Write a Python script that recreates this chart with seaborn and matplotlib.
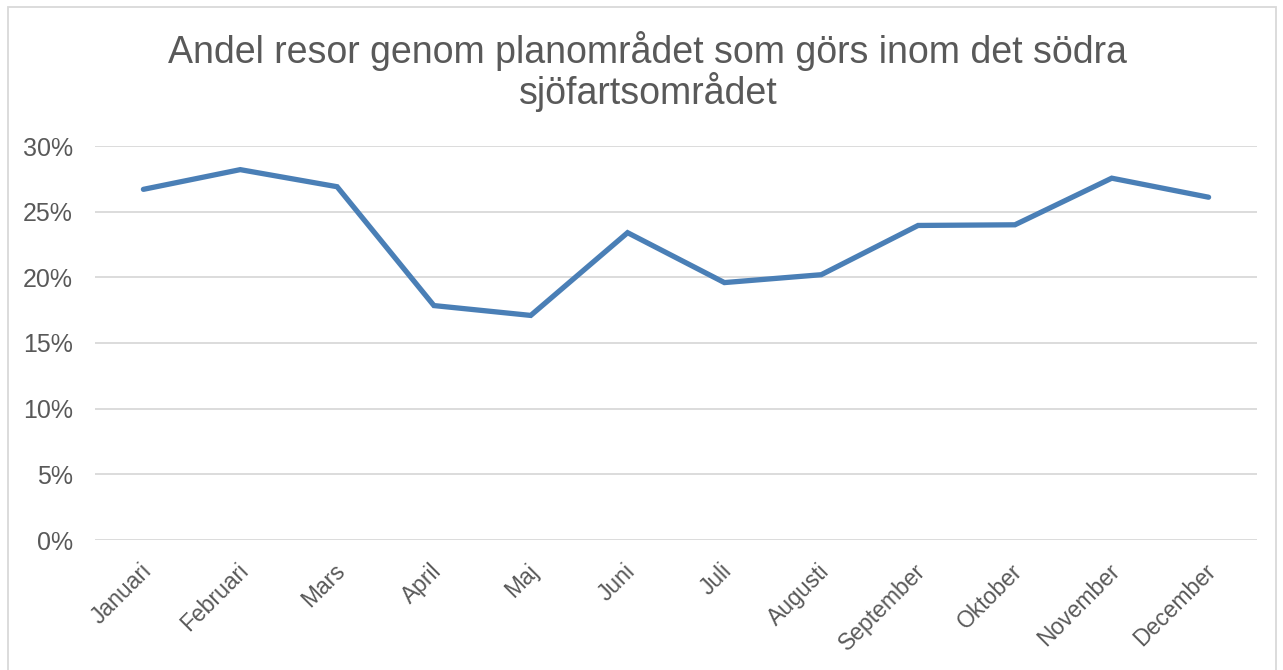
import matplotlib
matplotlib.use("Agg")
import matplotlib.pyplot as plt
import matplotlib.transforms as mtransforms
import seaborn as sns
import pandas as pd
from matplotlib.patches import Rectangle
from matplotlib.ticker import PercentFormatter

months = ["Januari", "Februari", "Mars", "April", "Maj", "Juni", "Juli",
          "Augusti", "September", "Oktober", "November", "December"]
share = [26.7, 28.2, 26.9, 17.85, 17.1, 23.4, 19.6, 20.2, 23.95, 24.0, 27.55, 26.1]
yticks = [0, 5, 10, 15, 20, 25, 30]
title = "Andel resor genom planområdet som görs inom det södra\nsjöfartsområdet"

df = pd.DataFrame({"month": months, "share": share})

sns.set_style("white")
plt.rcParams["font.family"] = ["Liberation Sans", "DejaVu Sans"]
text_color = "#595959"

fig = plt.figure(figsize=(12.83, 6.70), dpi=100)
ax = fig.add_axes([95 / 1283, 1 - 540 / 670, (1257 - 95) / 1283, (540 - 146) / 670])

sns.lineplot(data=df, x="month", y="share", ax=ax, color="#4a7fb6",
             linewidth=3.8, sort=False)
ax.lines[0].set_solid_capstyle("round")
ax.lines[0].set_solid_joinstyle("miter")

ax.set_xlim(-0.5, len(months) - 0.5)
ax.set_ylim(0, 30)
ax.set_yticks(yticks)
ax.yaxis.set_major_formatter(PercentFormatter(decimals=0))
ax.grid(axis="y", color="#d9d9d9", linewidth=1.3)
ax.set_axisbelow(True)
for s in ax.spines.values():
    s.set_visible(False)
ax.set_xlabel("")
ax.set_ylabel("")
ax.tick_params(axis="y", length=0, labelsize=18, colors=text_color, pad=16)
ax.tick_params(axis="x", length=0, labelsize=16.5, colors=text_color, pad=14)
shift = mtransforms.ScaledTranslation(-4 / 100, 0, fig.dpi_scale_trans)
for lbl in ax.get_xticklabels():
    lbl.set_rotation(45)
    lbl.set_ha("right")
    lbl.set_va("top")
    lbl.set_rotation_mode("anchor")
    lbl.set_transform(lbl.get_transform() + shift)

fig.text(0.505, 1 - 104 / 670, title, ha="center", va="baseline",
         fontsize=27, color=text_color, linespacing=1.03)

fig.patches.append(Rectangle((8 / 1283, -0.01), (1276 - 8) / 1283, 1 - 7 / 670 + 0.01,
                             transform=fig.transFigure, fill=False,
                             edgecolor="#d9d9d9", linewidth=1.3))

fig.savefig("out.png", dpi=100)
